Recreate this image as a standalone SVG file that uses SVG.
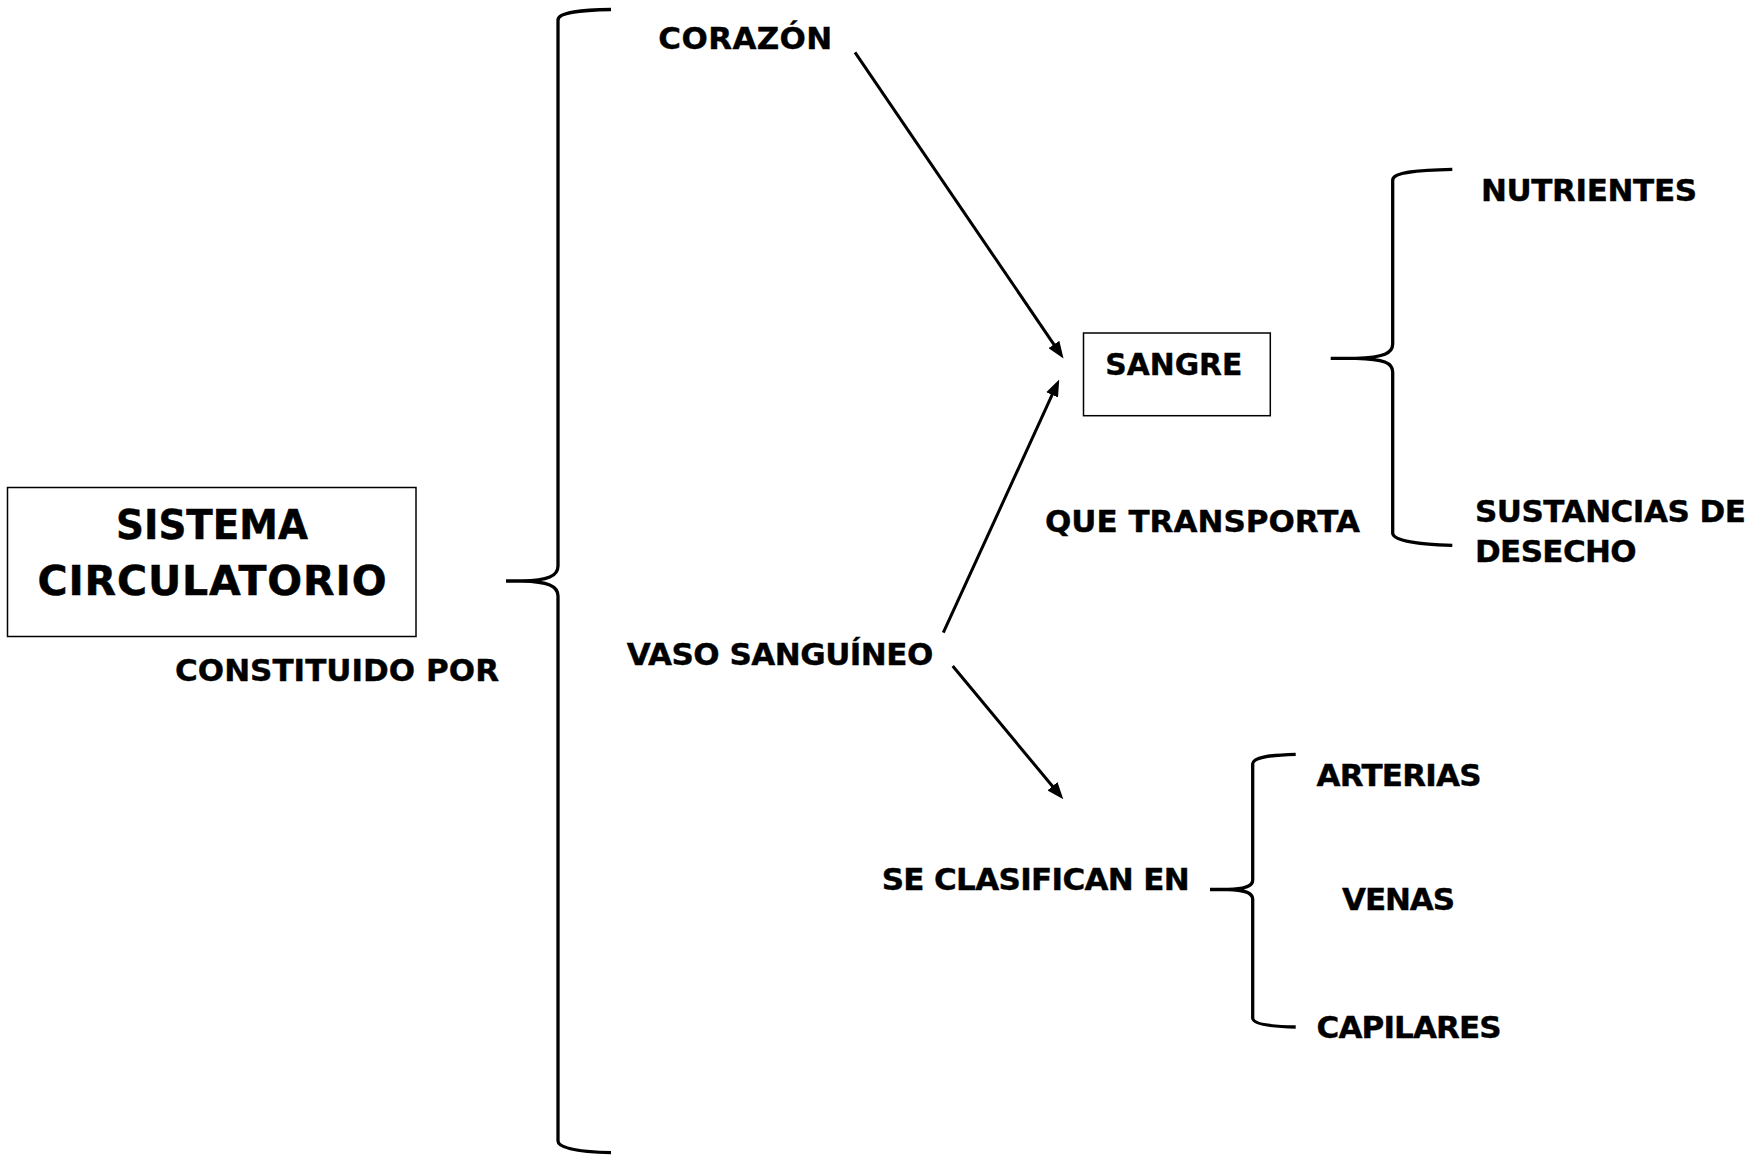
<svg xmlns="http://www.w3.org/2000/svg" width="1760" height="1155" viewBox="0 0 1760 1155">
  <style>
    .t { font-family: "DejaVu Sans", "Liberation Sans", sans-serif; font-weight: bold; font-size: 31px; fill: #000; stroke: #000; stroke-width: 0.4px; }
    .title { font-size: 41px; stroke-width: 0.5px; }
    .box { fill: #fff; stroke: #000; stroke-width: 1.5; }
    .brace { fill: none; stroke: #000; stroke-width: 3.3; stroke-linejoin: round; }
    .arrow { fill: none; stroke: #000; stroke-width: 3; }
  </style>
  <defs>
    <marker id="head" markerUnits="userSpaceOnUse" markerWidth="17" markerHeight="13" refX="4" refY="6.5" orient="auto">
      <path d="M0,0 L17,6.5 L0,13 Z" fill="#000"/>
    </marker>
  </defs>
  <rect width="1760" height="1155" fill="#fff"/>

  <g id="sistema">
    <rect class="box" x="7.5" y="487.5" width="408.5" height="149"/>
    <text class="t title" x="116" y="538.5" textLength="192" lengthAdjust="spacingAndGlyphs">SISTEMA</text>
    <text class="t title" x="37.5" y="595" textLength="349">CIRCULATORIO</text>
  </g>
  <g id="constituido">
    <text class="t" x="175" y="681" textLength="324">CONSTITUIDO POR</text>
  </g>
  <g id="corazon">
    <text class="t" x="658.3" y="49.3" textLength="174">CORAZÓN</text>
  </g>
  <g id="vaso">
    <text class="t" x="626.7" y="665" textLength="306.6">VASO SANGUÍNEO</text>
  </g>
  <g id="sangre">
    <rect class="box" x="1083.5" y="333" width="186.8" height="82.7"/>
    <text class="t" x="1105.3" y="374.5" textLength="137" lengthAdjust="spacingAndGlyphs">SANGRE</text>
  </g>
  <g id="que-transporta">
    <text class="t" x="1045" y="532.3" textLength="315">QUE TRANSPORTA</text>
  </g>
  <g id="nutrientes">
    <text class="t" x="1481" y="200.5" textLength="216">NUTRIENTES</text>
  </g>
  <g id="sustancias">
    <text class="t" x="1475" y="521.7" textLength="271">SUSTANCIAS DE</text>
    <text class="t" x="1475" y="561.7" textLength="161.7">DESECHO</text>
  </g>
  <g id="se-clasifican">
    <text class="t" x="881.7" y="890" textLength="308">SE CLASIFICAN EN</text>
  </g>
  <g id="arterias">
    <text class="t" x="1316.5" y="786" textLength="165">ARTERIAS</text>
  </g>
  <g id="venas">
    <text class="t" x="1342" y="910" textLength="113">VENAS</text>
  </g>
  <g id="capilares">
    <text class="t" x="1316.6" y="1038.3" textLength="185">CAPILARES</text>
  </g>

  <g id="connectors">
    <path class="brace" d="M611,9.5 C583,10 558,12 558,20 L558,566 C558,576 548,580.5 522,581 L506,581 M522,581 C548,581.5 558,586 558,596 L558,1141 C558,1149 583,1152 611,1152.7"/>
    <path class="brace" d="M1452.3,169.3 C1420,170 1392.7,172 1392.7,180 L1392.7,344 C1392.7,353 1384,357.5 1356,358.3 L1330.7,358.3 M1356,358.3 C1384,359 1392.7,363 1392.7,372 L1392.7,533 C1392.7,541 1420,544.5 1452.3,545.3"/>
    <path class="brace" d="M1295.7,754.3 C1270,755 1252.7,757 1252.7,764 L1252.7,880 C1252.7,886 1246,889 1228,889.5 L1210,889.5 M1228,889.5 C1246,890 1252.7,893 1252.7,899 L1252.7,1018 C1252.7,1024 1270,1026.5 1295.7,1027"/>
    <line class="arrow" x1="855" y1="52.3" x2="1056.2" y2="347.8" marker-end="url(#head)"/>
    <line class="arrow" x1="943.3" y1="632.7" x2="1053.8" y2="391.2" marker-end="url(#head)"/>
    <line class="arrow" x1="952.7" y1="666" x2="1055" y2="789.3" marker-end="url(#head)"/>
  </g>
</svg>
